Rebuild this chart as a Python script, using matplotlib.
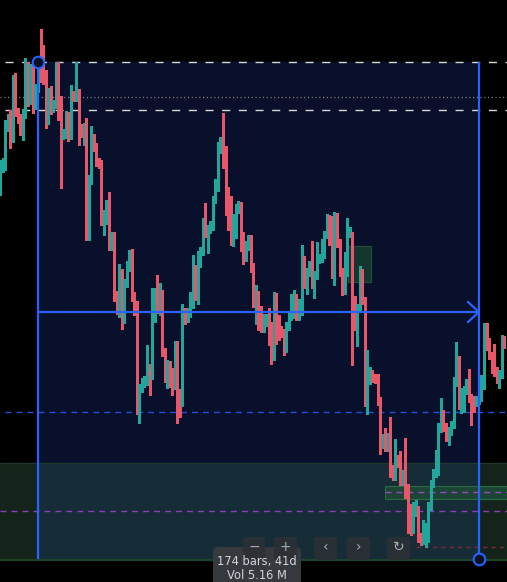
import numpy as np
import matplotlib.pyplot as plt
from matplotlib.patches import Rectangle, FancyBboxPatch

plt.rcParams['lines.scale_dashes'] = False

# candle data (arbitrary price units)
first_open = 410
closes = [
    432, 438, 475, 482, 478, 520, 488, 482, 475, 486,
    530, 500, 532, 495, 512, 530, 522, 520, 480, 508,
    492, 496, 528, 500, 465, 467, 484, 465, 505, 503,
    507, 472, 467, 469, 385, 420, 458, 453, 438, 436,
    383, 386, 388, 354, 364, 305, 298, 326, 281, 317,
    333, 347, 304, 295, 203, 212, 217, 220, 228, 225,
    282, 307, 300, 305, 248, 222, 236, 228, 215, 255,
    207, 198, 288, 282, 287, 302, 325, 304, 337, 349,
    377, 367, 371, 374, 401, 417, 451, 455, 436, 409,
    400, 358, 382, 391, 393, 364, 343, 354, 361, 333,
    296, 305, 290, 273, 278, 282, 268, 244, 303, 281,
    270, 267, 265, 274, 284, 286, 302, 284, 289, 329,
    316, 328, 334, 314, 325, 341, 342, 346, 366, 382,
    380, 342, 384, 357, 328, 310, 328, 367, 368, 300,
    274, 292, 326, 300, 198, 220, 226, 222, 221, 199,
    156, 162, 153, 163, 131, 124, 141, 137, 123, 126,
    112, 92, 75, 88, 90, 63, 60, 70, 73, 94,
    117, 127, 145, 172, 182, 173, 163, 169, 176, 218,
    239, 195, 208, 210, 216, 202, 200, 198, 200, 203,
    215, 272, 258, 244, 231, 228, 222, 226, 260, 256,
]
wick_hi = [
    8, 4, 5, 4, 8, 5, 7, 4, 4, 5,
    12, 8, 4, 5, 4, 10, 41, 33, 10, 4,
    6, 4, 10, 10, 4, 4, 5, 4, 10, 4,
    31, 4, 4, 8, 13, 5, 16, 8, 4, 4,
    4, 4, 12, 20, 4, 4, 4, 10, 5, 4,
    6, 3, 4, 4, 4, 4, 5, 4, 27, 8,
    30, 5, 18, 12, 5, 4, 4, 3, 4, 4,
    4, 4, 8, 4, 5, 6, 20, 10, 12, 4,
    5, 20, 4, 5, 3, 4, 7, 8, 32, 18,
    4, 4, 4, 5, 6, 5, 4, 5, 4, 4,
    4, 10, 4, 4, 8, 4, 10, 10, 5, 4,
    4, 4, 4, 4, 4, 20, 8, 4, 12, 26,
    15, 4, 5, 25, 4, 17, 4, 15, 3, 4,
    3, 4, 4, 3, 4, 4, 20, 15, 5, 0,
    4, 4, 8, 5, 3, 30, 7, 4, 4, 5,
    4, 4, 10, 4, 20, 4, 20, 4, 12, 4,
    36, 4, 4, 10, 10, 4, 4, 10, 4, 4,
    3, 4, 5, 5, 20, 8, 4, 4, 3, 5,
    19, 5, 4, 4, 5, 15, 4, 4, 4, 4,
    10, 5, 5, 4, 4, 25, 5, 4, 5, 4,
]
wick_lo = [
    5, 4, 8, 6, 26, 20, 4, 5, 10, 15,
    4, 6, 4, 8, 4, 4, 4, 4, 8, 4,
    6, 4, 4, 20, 53, 4, 5, 6, 4, 4,
    4, 17, 4, 12, 25, 25, 4, 4, 4, 4,
    8, 18, 10, 4, 4, 6, 12, 15, 10, 4,
    4, 4, 5, 10, 17, 26, 4, 4, 5, 20,
    4, 4, 13, 15, 4, 4, 10, 15, 10, 4,
    30, 15, 4, 6, 4, 4, 10, 4, 8, 4,
    4, 4, 20, 4, 4, 4, 8, 4, 4, 24,
    30, 3, 4, 20, 4, 15, 7, 4, 4, 5,
    3, 20, 20, 5, 5, 4, 13, 8, 4, 25,
    10, 4, 20, 17, 4, 4, 4, 4, 4, 4,
    4, 10, 4, 2, 12, 4, 4, 4, 4, 4,
    25, 20, 27, 4, 4, 5, 4, 4, 4, 65,
    4, 20, 4, 4, 4, 12, 4, 4, 4, 4,
    10, 4, 4, 4, 8, 4, 4, 4, 8, 8,
    10, 25, 10, 8, 4, 5, 5, 4, 17, 15,
    4, 4, 4, 20, 4, 4, 4, 8, 4, 4,
    4, 4, 8, 20, 4, 4, 25, 10, 4, 4,
    4, 4, 8, 3, 4, 4, 5, 10, 4, 4,
]

# drawing levels
top_dash, dot_level, mid_dash = 538, 503, 490
blue_dash, purple_long, purple_short, red_dash = 188, 89, 108, 53
meas_start, meas_end = 15, 189
meas_hi, meas_lo, arrow_level = 538, 41, 288
zone_top, zone_bot = 137, 40
fvg_x0, fvg_hi, fvg_lo = 152, 114, 101
ob_x0, ob_x1, ob_hi, ob_lo = 137.3, 146.4, 354, 318

W, H = 507, 582
UP, DOWN = '#22a69c', '#e8566a'
BLUE = '#2962ff'


def px(x, y):
    # pixel position -> figure fraction
    return x / W, 1 - y / H


def main():
    fig = plt.figure(figsize=(W / 100, H / 100), dpi=100, facecolor='black')
    ax = fig.add_axes([0, 0, 1, 1])
    ax.set_facecolor('black')
    n = len(closes)
    ax.set_xlim(0, 200.08)
    ax.set_ylim(18, 600)
    ax.axis('off')

    # measure box + zones
    ax.add_patch(Rectangle((meas_start, meas_lo), meas_end - meas_start,
                           meas_hi - meas_lo, color='#08102b', zorder=0))
    ax.add_patch(Rectangle((0, zone_bot), meas_start, zone_top - zone_bot,
                           color='#15241a', zorder=0.5))
    ax.add_patch(Rectangle((meas_end, zone_bot), 220 - meas_end,
                           zone_top - zone_bot, color='#15241a', zorder=0.5))
    ax.add_patch(Rectangle((meas_start, zone_bot), meas_end - meas_start,
                           zone_top - zone_bot, color='#162c37', zorder=0.5))
    ax.axhline(zone_top, color='#1f3a2c', lw=0.8, zorder=0.6)
    ax.axhline(zone_bot, color='#1f4a2a', lw=1.2, zorder=0.6)
    ax.add_patch(Rectangle((fvg_x0, fvg_lo), 220 - fvg_x0, fvg_hi - fvg_lo,
                           facecolor='#1d4536', edgecolor='#2a6a45',
                           lw=0.8, zorder=0.7))
    ax.add_patch(Rectangle((ob_x0, ob_lo), ob_x1 - ob_x0, ob_hi - ob_lo,
                           facecolor='#15352f', edgecolor='#21503e',
                           lw=0.8, zorder=0.7))

    # horizontal levels
    ax.hlines([top_dash, mid_dash], 2, 201, color='#d8d8d8', lw=1,
              ls=(0, (5.8, 6.2)), zorder=1)
    ax.axhline(dot_level, color='#8a8a8a', lw=0.9, ls=(0, (0.8, 1.9)), zorder=1)
    ax.hlines(blue_dash, 2, 201, color='#2350d8', lw=1, ls=(0, (4.3, 3.6)),
              zorder=1)
    ax.axhline(purple_long, color='#8a3fb8', lw=1, ls=(0, (4.3, 3.6)), zorder=1)
    ax.hlines(purple_short, fvg_x0, 201, color='#9a45c8', lw=1,
              ls=(0, (4.3, 3.6)), zorder=1)
    ax.hlines(red_dash, 164, 201, color='#7a2a3a', lw=1, ls=(0, (3, 3)),
              zorder=1)

    # candles
    idx = np.arange(n)
    c = np.array(closes, dtype=float)
    o = np.r_[first_open, c[:-1]]
    hi = np.maximum(o, c) + np.array(wick_hi)
    lo = np.minimum(o, c) - np.array(wick_lo)
    cols = np.where(c >= o, UP, DOWN)
    ax.vlines(idx, lo, hi, colors=cols, lw=0.8, zorder=2, antialiased=False)
    body = np.maximum(np.abs(c - o), 1.5)
    ax.bar(idx, body, bottom=np.minimum(o, c), width=0.8, color=cols,
           linewidth=0, zorder=3, antialiased=False)

    # measurement tool
    ax.vlines([meas_start, meas_end], meas_lo, meas_hi, color=BLUE, lw=1.6,
              zorder=4)
    ax.hlines(arrow_level, meas_start, meas_end, color=BLUE, lw=1.6, zorder=4)
    ax.plot([meas_end - 4.3, meas_end, meas_end - 4.3],
            [arrow_level + 10, arrow_level, arrow_level - 10],
            color=BLUE, lw=1.6, zorder=4, solid_joinstyle='miter')
    ax.scatter([meas_start, meas_end], [meas_hi, meas_lo], s=70,
               facecolor='#0b1020', edgecolor=BLUE, linewidth=1.5, zorder=5)

    # tooltip under the toolbar buttons
    tx0, ty0 = px(213, 590)
    tx1, ty1 = px(301, 547)
    fig.patches.append(FancyBboxPatch(
        (tx0, ty0), tx1 - tx0, ty1 - ty0,
        boxstyle='round,pad=0,rounding_size=0.008',
        transform=fig.transFigure, facecolor='#36393e', edgecolor='none',
        zorder=5))
    fig.text(*px(257, 562), '174 bars, 41d', color='#d1d4dc', fontsize=8.3,
             ha='center', va='center', zorder=9)
    fig.text(*px(257, 575.5), 'Vol 5.16 M', color='#d1d4dc', fontsize=8.3,
             ha='center', va='center', zorder=9)

    # bottom toolbar
    for (x0, x1), lab in zip([(243, 265), (274, 297), (314, 337),
                              (347, 370), (387, 410)],
                             ['\u2212', '+', '\u2039', '\u203a', '\u21bb']):
        fx0, fy0 = px(x0, 560)
        fx1, fy1 = px(x1, 537)
        fig.patches.append(FancyBboxPatch(
            (fx0, fy0), fx1 - fx0, fy1 - fy0,
            boxstyle='round,pad=0,rounding_size=0.006',
            transform=fig.transFigure, facecolor='#2c3035',
            edgecolor='none', alpha=0.85, zorder=6))
        fig.text((fx0 + fx1) / 2, (fy0 + fy1) / 2 + 0.002, lab,
                 color='#a8acb0', fontsize=10, ha='center', va='center',
                 zorder=7)

    fig.savefig('out.png', dpi=100, facecolor='black')


if __name__ == '__main__':
    main()
